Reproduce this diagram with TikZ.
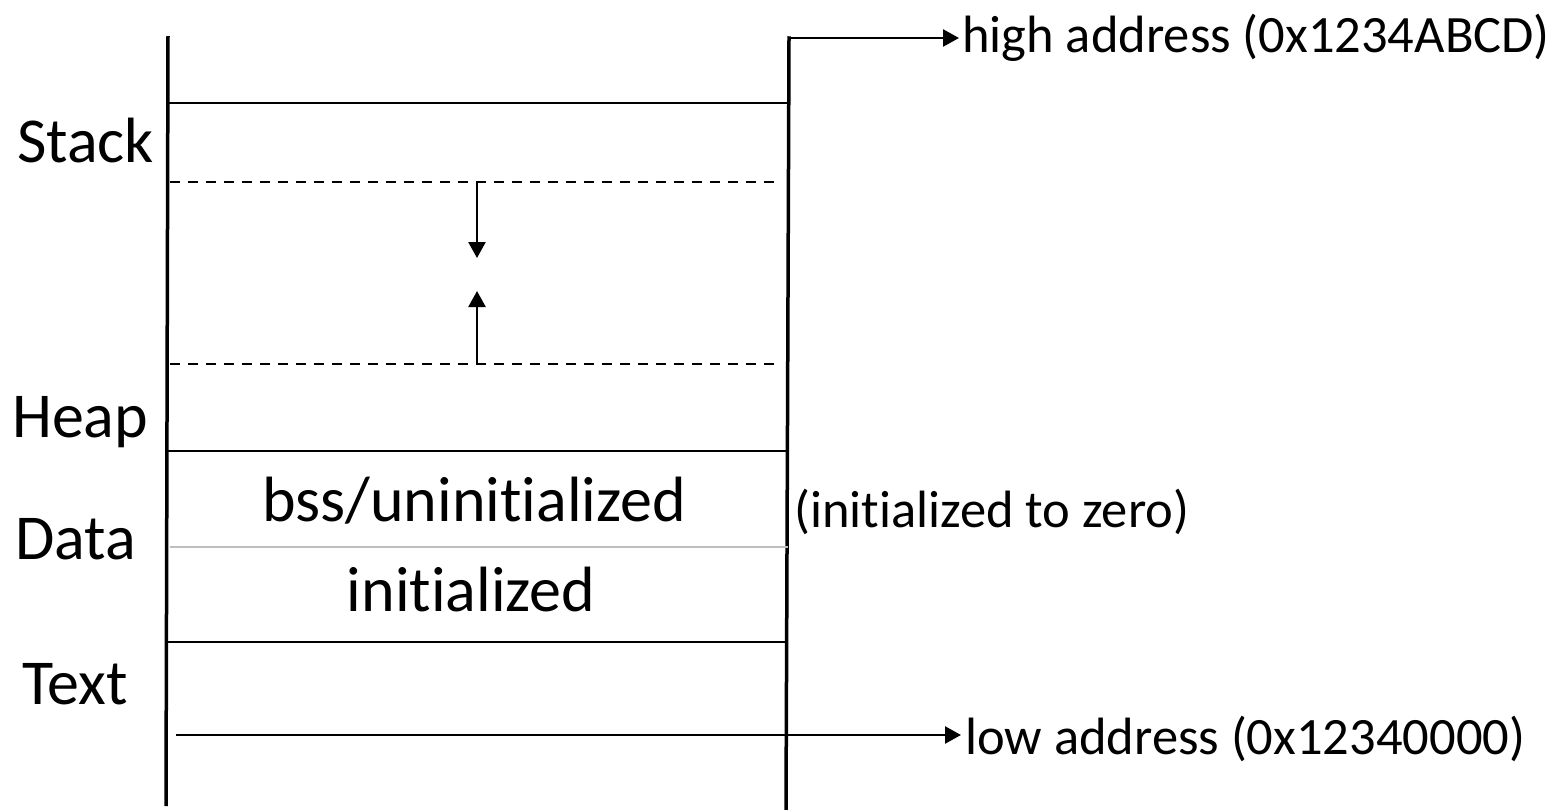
\documentclass[tikz,border=0pt]{standalone}
\usepackage{fontspec}
\setmainfont{Carlito}[Ligatures=NoCommon]
\usetikzlibrary{arrows.meta}
\begin{document}
\begin{tikzpicture}[x=1pt,y=-1pt,
  wall/.style={line width=3.5pt},
  sep/.style={line width=2.5pt},
  dsep/.style={line width=2pt, dash pattern=on 10pt off 8pt},
  gsep/.style={line width=2pt, draw={rgb,255:red,190;green,190;blue,190}},
  arr/.style={line width=2.5pt, -{Triangle[length=16pt,width=17pt]}},
  big/.style={inner sep=0pt, font=\fontsize{64}{70}\selectfont},
  addr/.style={inner sep=0pt, font=\fontsize{52.5}{58}\selectfont},
]
\useasboundingbox (0,0) rectangle (1563,809);
% walls
\coordinate (LT) at (168,36);
\coordinate (LB) at (166,806);
\coordinate (RT) at (789,38);
\coordinate (RB) at (786,808);
\draw[wall] (LT) -- (LB);
\draw[wall,line cap=rect] (RT) -- (RB);
% separators
\coordinate (s1a) at (168,103); \coordinate (s1b) at (788,103);
\coordinate (s4a) at (168,451); \coordinate (s4b) at (787,451);
\coordinate (s6a) at (167,642); \coordinate (s6b) at (787,642);
\draw[sep] (s1a) -- (s1b);
\draw[sep] (s4a) -- (s4b);
\draw[sep] (s6a) -- (s6b);
\coordinate (d1a) at (170,182); \coordinate (d1b) at (780,182);
\coordinate (d2a) at (170,364); \coordinate (d2b) at (780,364);
\draw[dsep] (d1a) -- (d1b);
\draw[dsep] (d2a) -- (d2b);
\coordinate (g1a) at (170,547); \coordinate (g1b) at (788,547);
\draw[gsep] (g1a) -- (g1b);
% growth arrows
\coordinate (ad0) at (477,182); \coordinate (ad1) at (477,258);
\coordinate (au0) at (477,364); \coordinate (au1) at (477,291);
\draw[arr] (ad0) -- (ad1);
\draw[arr] (au0) -- (au1);
% address arrows
\coordinate (hiEnd) at (959,38);
\coordinate (loStart) at (176,735);
\coordinate (loEnd) at (961,735);
\draw[arr] (RT) -- (hiEnd);
\draw[arr] (loStart) -- (loEnd);
% labels
\node[big,anchor=base west] (stack) at (17,162) {Stack};
\node[big,anchor=base west] (heap) at (12,437) {Heap};
\node[big,anchor=base west] (data) at (15,559) {Data};
\node[big,anchor=base west] (text) at (22,704) {Text};
\node[big,anchor=base] (bss) at (474,521) {bss/uninitialized};
\node[big,anchor=base] (init) at (471,611) {initialized};
\node[addr,anchor=base west] (zero) at (794,527) {(initialized to zero)};
\node[addr,anchor=base west] (hi) at (962,52) {high address (0x1234ABCD)};
\node[addr,anchor=base west] (lo) at (965,754) {low address (0x12340000)};
\end{tikzpicture}
\end{document}
